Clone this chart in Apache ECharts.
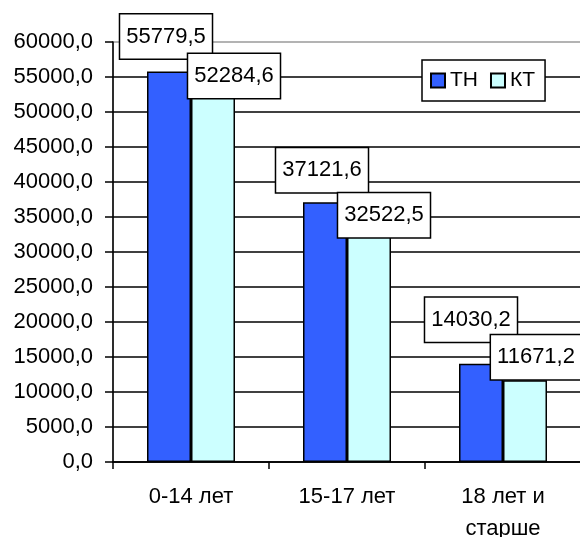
<!DOCTYPE html>
<html>
<head>
<meta charset="utf-8">
<script src="https://cdn.jsdelivr.net/npm/echarts@6/dist/echarts.min.js"></script>
<style>
  html, body { margin: 0; padding: 0; background: #fff; }
  #chart { width: 580px; height: 537px; }
</style>
</head>
<body>
<div id="chart"></div>
<script>
// Age groups and the two series
const categories = ['0-14 лет', '15-17 лет', '18 лет и\nстарше'];
const seriesNames = ['ТН', 'КТ'];
const valuesTH = [55779.5, 37121.6, 14030.2];
const valuesKT = [52284.6, 32522.5, 11671.2];
const yTicks = { min: 0, max: 60000, interval: 5000 };

// Hand-placed value boxes: shift from the top-centre of each bar
const offsetsTH = [[-3, -13], [-3, -10], [-10, -22]];
const offsetsKT = [[21, 2], [15, 3], [11, -1]];

const FONT = 'Arial, "Liberation Sans", sans-serif';
const fmt = v => v.toFixed(1).replace('.', ',');

const boxLabel = {
  show: true,
  position: 'top',
  distance: 0,
  formatter: p => fmt(p.value),
  fontFamily: FONT,
  fontSize: 22,
  lineHeight: 22,
  color: '#000',
  backgroundColor: '#fff',
  borderColor: '#000',
  borderWidth: 1.5,
  padding: [11, 6, 11, 6]
};

function withOffsets(values, offsets) {
  return values.map((v, i) => ({ value: v, label: { offset: offsets[i] } }));
}

const chart = echarts.init(document.getElementById('chart'), null, { renderer: 'canvas' });
chart.setOption({
  backgroundColor: '#fff',
  animation: false,
  textStyle: { fontFamily: FONT },
  // plot-area frame: only its grey top edge stays visible
  grid: {
    left: 113, right: -1, top: 42, bottom: 75,
    outerBoundsMode: 'none',
    containLabel: false,
    show: true, borderColor: '#9a9a9a', borderWidth: 1.5, backgroundColor: 'transparent'
  },
  legend: {
    left: 422,
    top: 60,
    orient: 'horizontal',
    data: seriesNames,
    icon: 'rect',
    itemWidth: 14,
    itemHeight: 14,
    itemGap: 12,
    padding: [10, 10, 10, 8],
    backgroundColor: '#fff',
    borderColor: '#000',
    borderWidth: 1.5,
    textStyle: { fontFamily: FONT, fontSize: 21, color: '#000', padding: [0, 0, 0, 0] }
  },
  xAxis: {
    type: 'category',
    data: categories,
    axisLine: { lineStyle: { color: '#000', width: 1.5 } },
    axisTick: { show: true, length: 7, lineStyle: { color: '#000', width: 1.5 } },
    axisLabel: {
      fontFamily: FONT,
      fontSize: 22,
      lineHeight: 32,
      color: '#000',
      margin: 19,
      interval: 0
    },
    splitLine: { show: false }
  },
  yAxis: {
    type: 'value',
    min: yTicks.min,
    max: yTicks.max,
    interval: yTicks.interval,
    axisLine: { show: true, lineStyle: { color: '#000', width: 1.5 } },
    axisTick: { show: true, length: 8, lineStyle: { color: '#000', width: 1.5 } },
    axisLabel: {
      fontFamily: FONT,
      fontSize: 22,
      color: '#000',
      margin: 20,
      formatter: v => fmt(v)
    },
    splitLine: { show: true, showMaxLine: false, lineStyle: { color: '#000', width: 1.5 } }
  },
  series: [
    {
      name: seriesNames[0],
      type: 'bar',
      data: withOffsets(valuesTH, offsetsTH),
      barWidth: 44,
      barGap: '0%',
      itemStyle: { color: '#3360ff', borderColor: '#000', borderWidth: 1.5 },
      label: boxLabel
    },
    {
      name: seriesNames[1],
      type: 'bar',
      data: withOffsets(valuesKT, offsetsKT),
      barWidth: 44,
      barGap: '0%',
      itemStyle: { color: '#ccffff', borderColor: '#000', borderWidth: 1.5 },
      label: boxLabel
    }
  ]
});
</script>
</body>
</html>
